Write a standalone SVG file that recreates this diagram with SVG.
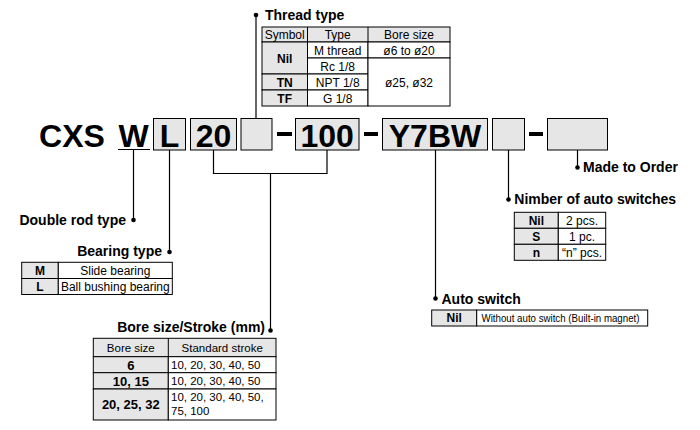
<svg xmlns="http://www.w3.org/2000/svg" width="700" height="430" viewBox="0 0 700 430">
<style>
text{font-family:"Liberation Sans",Arial,sans-serif;fill:#000}
.h{font-size:14px;font-weight:bold}
.code{font-size:32px;font-weight:bold;text-anchor:middle}
.box{fill:#e6e6e6;stroke:#000;stroke-width:1}
.cell{fill:#fff;stroke:#000;stroke-width:1}
.g{fill:#e6e6e6;stroke:#000;stroke-width:1}
.t{font-size:12px;text-anchor:middle}
.tb{font-size:12px;font-weight:bold;text-anchor:middle}
.s{font-size:11.5px;text-anchor:middle}
.sl{font-size:11.5px}
.sb{font-size:13px;font-weight:bold;text-anchor:middle}
.ln{fill:none;stroke:#000;stroke-width:1.2}
.dash{fill:#000}
</style>
<rect width="700" height="430" fill="#fff"/>

<g id="code">
<text class="code" x="72" y="146.5">CXS</text>
<text class="code" x="133.5" y="146.5">W</text>
<line x1="118" y1="149.5" x2="150" y2="149.5" stroke="#000" stroke-width="1"/>
<rect class="box" x="153.5" y="118.5" width="32" height="31.5"/>
<text class="code" x="169.5" y="146.5">L</text>
<rect class="box" x="190.5" y="118.5" width="46" height="31.5"/>
<text class="code" x="213.5" y="146.5">20</text>
<rect class="box" x="241" y="118.5" width="31" height="31.5"/>
<rect class="dash" x="277" y="132" width="15" height="4"/>
<rect class="box" x="295.5" y="118.5" width="63.5" height="31.5"/>
<text class="code" x="327.2" y="146.5">100</text>
<rect class="dash" x="364" y="132" width="14" height="4"/>
<rect class="box" x="382.5" y="118.5" width="105" height="31.5"/>
<text class="code" x="435" y="146.5">Y7BW</text>
<rect class="box" x="492.5" y="118.5" width="32" height="31.5"/>
<rect class="dash" x="529" y="132" width="14" height="4"/>
<rect class="box" x="547.5" y="118.5" width="60" height="31.5"/>
</g>

<g id="connectors">
<polyline class="ln" points="256,15 256,118.5"/>
<polyline class="ln" points="133.5,150 133.5,220"/>
<polyline class="ln" points="169.5,150 169.5,252"/>
<polyline class="ln" points="213.5,150 213.5,173.5 327,173.5 327,150"/>
<polyline class="ln" points="270.5,173.5 270.5,330.5"/>
<polyline class="ln" points="435.5,150 435.5,298.5"/>
<polyline class="ln" points="508.5,150 508.5,199.5"/>
<polyline class="ln" points="577.5,150 577.5,167.5"/>
<circle cx="256" cy="15" r="2.3"/>
<circle cx="133.5" cy="220" r="2.3"/>
<circle cx="169.5" cy="252" r="2.3"/>
<circle cx="270.5" cy="330.5" r="2.3"/>
<circle cx="435.5" cy="298.5" r="2.3"/>
<circle cx="508.5" cy="199.5" r="2.3"/>
<circle cx="577.5" cy="167.5" r="2.3"/>
</g>

<g id="thread-type">
<text class="h" x="265" y="20">Thread type</text>
<rect class="g" x="262" y="27" width="188" height="15"/>
<rect class="g" x="262" y="42" width="45.5" height="32"/>
<rect class="g" x="262" y="74" width="45.5" height="16"/>
<rect class="g" x="262" y="90" width="45.5" height="16"/>
<rect class="cell" x="307.5" y="42" width="60.5" height="16"/>
<rect class="cell" x="307.5" y="58" width="60.5" height="16"/>
<rect class="cell" x="307.5" y="74" width="60.5" height="16"/>
<rect class="cell" x="307.5" y="90" width="60.5" height="16"/>
<rect class="cell" x="368" y="42" width="82" height="16"/>
<rect class="cell" x="368" y="58" width="82" height="48"/>
<line x1="307.5" y1="27" x2="307.5" y2="42" stroke="#000"/>
<line x1="368" y1="27" x2="368" y2="42" stroke="#000"/>
<text class="t" x="284.7" y="38.5">Symbol</text>
<text class="t" x="337.7" y="38.5">Type</text>
<text class="t" x="409" y="38.5">Bore size</text>
<text class="tb" x="284.7" y="62.5">Nil</text>
<text class="tb" x="284.7" y="86.5">TN</text>
<text class="tb" x="284.7" y="102.5">TF</text>
<text class="t" x="337.7" y="54.5">M thread</text>
<text class="t" x="337.7" y="70.5">Rc 1/8</text>
<text class="t" x="337.7" y="86.5">NPT 1/8</text>
<text class="t" x="337.7" y="102.5">G 1/8</text>
<text class="t" x="409" y="54.5">ø6 to ø20</text>
<text class="t" x="409" y="86.5">ø25, ø32</text>
</g>

<g id="double-rod-type">
<text class="h" x="126" y="225" text-anchor="end">Double rod type</text>
</g>

<g id="bearing-type">
<text class="h" x="162" y="256" text-anchor="end">Bearing type</text>
<rect class="g" x="21.7" y="262.3" width="36.6" height="16.2"/>
<rect class="g" x="21.7" y="278.5" width="36.6" height="16"/>
<rect class="cell" x="58.3" y="262.3" width="114" height="16.2"/>
<rect class="cell" x="58.3" y="278.5" width="114" height="16"/>
<text class="tb" x="40" y="274.5">M</text>
<text class="tb" x="40" y="290.5">L</text>
<text class="t" x="115.3" y="274.5">Slide bearing</text>
<text class="t" x="115.3" y="290.5">Ball bushing bearing</text>
</g>

<g id="bore-stroke">
<text class="h" x="265" y="331.5" text-anchor="end">Bore size/Stroke (mm)</text>
<rect class="g" x="93.3" y="338.3" width="182.7" height="18.4"/>
<rect class="g" x="93.3" y="356.7" width="75" height="16"/>
<rect class="g" x="93.3" y="372.7" width="75" height="16.3"/>
<rect class="g" x="93.3" y="389" width="75" height="31"/>
<rect class="cell" x="168.3" y="356.7" width="107.7" height="16"/>
<rect class="cell" x="168.3" y="372.7" width="107.7" height="16.3"/>
<rect class="cell" x="168.3" y="389" width="107.7" height="31"/>
<line x1="168.3" y1="338.3" x2="168.3" y2="356.7" stroke="#000"/>
<text class="s" x="130.8" y="351.7">Bore size</text>
<text class="s" x="222.2" y="351.7">Standard stroke</text>
<text class="sb" x="130.8" y="369.5">6</text>
<text class="sb" x="130.8" y="385.5">10, 15</text>
<text class="sb" x="130.8" y="409">20, 25, 32</text>
<text class="sl" x="171" y="369">10, 20, 30, 40, 50</text>
<text class="sl" x="171" y="385">10, 20, 30, 40, 50</text>
<text class="sl" x="171" y="401">10, 20, 30, 40, 50,</text>
<text class="sl" x="171" y="414.5">75, 100</text>
</g>

<g id="made-to-order">
<text class="h" x="583" y="171.7">Made to Order</text>
</g>

<g id="number-of-auto-switches">
<text class="h" x="514.3" y="204">Nimber of auto switches</text>
<rect class="g" x="514.3" y="212.3" width="44" height="16"/>
<rect class="g" x="514.3" y="228.3" width="44" height="16"/>
<rect class="g" x="514.3" y="244.3" width="44" height="16"/>
<rect class="cell" x="558.3" y="212.3" width="47.4" height="16"/>
<rect class="cell" x="558.3" y="228.3" width="47.4" height="16"/>
<rect class="cell" x="558.3" y="244.3" width="47.4" height="16"/>
<text class="tb" x="536.3" y="224.5">Nil</text>
<text class="tb" x="536.3" y="240.5">S</text>
<text class="tb" x="536.3" y="256.5">n</text>
<text class="t" x="582" y="224.5">2 pcs.</text>
<text class="t" x="582" y="240.5">1 pc.</text>
<text class="t" x="582" y="256.5">“n” pcs.</text>
</g>

<g id="auto-switch">
<text class="h" x="441.5" y="304">Auto switch</text>
<rect class="g" x="431.7" y="310" width="45" height="16"/>
<rect class="cell" x="476.7" y="310" width="171" height="16"/>
<text class="tb" x="454.2" y="322">Nil</text>
<text style="font-size:11px" x="481.5" y="322" textLength="158" lengthAdjust="spacingAndGlyphs">Without auto switch (Built-in magnet)</text>
</g>
</svg>
